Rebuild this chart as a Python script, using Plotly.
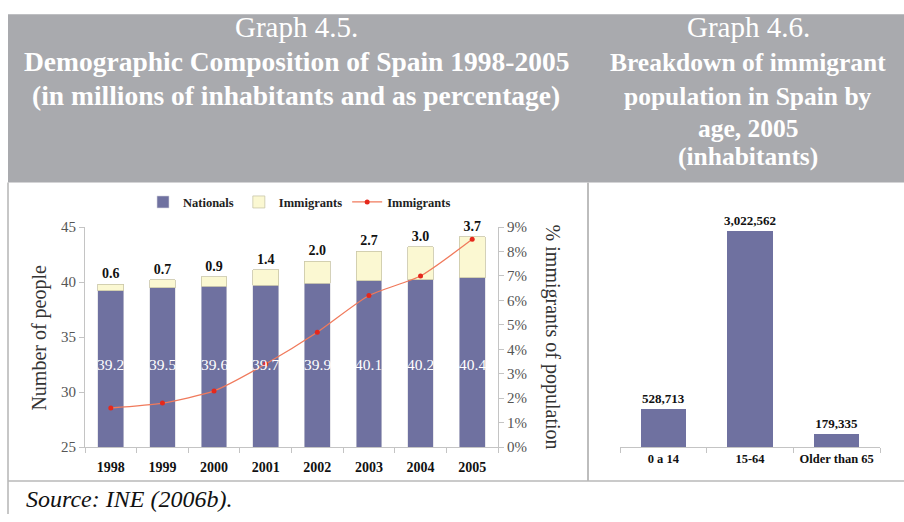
import plotly.graph_objects as go

# Graph 4.5 data (millions of inhabitants, % immigrants)
years = ["1998", "1999", "2000", "2001", "2002", "2003", "2004", "2005"]
nationals = [39.2, 39.5, 39.6, 39.7, 39.9, 40.1, 40.2, 40.4]
immigrants = [0.6, 0.7, 0.9, 1.4, 2.0, 2.7, 3.0, 3.7]
immigrant_pct = [1.6, 1.8, 2.3, 3.4, 4.7, 6.2, 7.0, 8.5]

# Graph 4.6 data (immigrant inhabitants by age group, 2005)
age_groups = ["0 a 14", "15-64", "Older than 65"]
age_counts = [528713, 3022562, 179335]

W, H = 904, 522
SERIF = "Liberation Serif"
NAT_COLOR = "#6f71a0"
IMM_COLOR = "#fbf8d2"
AXIS_GRAY = "#c4c4c4"


def X(px):
    return px / W


def Y(py):
    return 1 - py / H


fig = go.Figure()

fig.add_trace(go.Bar(
    x=years, y=nationals, name="Nationals",
    marker=dict(color=NAT_COLOR, line=dict(color="#d8d8e0", width=0.6)),
    xaxis="x", yaxis="y", width=0.5,
))
fig.add_trace(go.Bar(
    x=years, y=immigrants, name="Immigrants",
    marker=dict(color=IMM_COLOR, line=dict(color="#c9c6a8", width=0.8)),
    xaxis="x", yaxis="y", width=0.5,
    text=[f"{v:.1f}" for v in immigrants], textposition="outside",
    textfont=dict(family=SERIF, size=14, color="#111", weight="bold"),
    cliponaxis=False, constraintext="none",
))
fig.add_trace(go.Scatter(
    x=years, y=immigrant_pct, name="Immigrants", mode="lines+markers",
    line=dict(color="#f07a5c", width=1.3, shape="spline", smoothing=0.6),
    marker=dict(color="#e5281c", size=5),
    xaxis="x", yaxis="y2",
))
fig.add_trace(go.Bar(
    x=age_groups, y=age_counts, showlegend=False,
    marker=dict(color=NAT_COLOR, line=dict(width=0)),
    xaxis="x3", yaxis="y3", width=0.52,
    texttemplate="%{y:,}", textposition="outside",
    textfont=dict(family=SERIF, size=13, color="#111", weight="bold"),
    cliponaxis=False, constraintext="none",
))

tick_font = dict(family=SERIF, size=15, color="#555")

fig.update_layout(
    width=W, height=H, autosize=False,
    margin=dict(l=0, r=0, t=0, b=0),
    paper_bgcolor="white", plot_bgcolor="white",
    barmode="stack", bargap=0.5,
    showlegend=True,
    legend=dict(
        orientation="h", x=X(143), y=Y(185), xanchor="left", yanchor="top",
        font=dict(family=SERIF, size=12.5, color="#222", weight="bold"),
        traceorder="normal", itemwidth=30, tracegroupgap=0,
        bgcolor="rgba(0,0,0,0)",
    ),
    xaxis=dict(
        type="category", domain=[X(85), X(498)], anchor="y",
        range=[-0.5, len(years) - 0.5],
        showline=True, linecolor=AXIS_GRAY, linewidth=1,
        ticks="outside", tickson="boundaries", ticklen=5, tickcolor=AXIS_GRAY,
        ticklabelstandoff=7,
        tickfont=dict(family=SERIF, size=14, color="#111", weight="bold"),
        showgrid=False, fixedrange=True,
    ),
    yaxis=dict(
        domain=[Y(453), Y(226)], range=[25, 45], dtick=5,
        showline=True, linecolor=AXIS_GRAY, linewidth=1,
        ticks="outside", ticklen=5, tickcolor=AXIS_GRAY,
        tickfont=tick_font, showgrid=False, zeroline=False,
    ),
    yaxis2=dict(
        overlaying="y", side="right", anchor="x", range=[0, 9], dtick=1,
        ticksuffix="%", showline=True, linecolor=AXIS_GRAY, linewidth=1,
        ticks="outside", ticklen=5, tickcolor=AXIS_GRAY,
        tickfont=tick_font, showgrid=False, zeroline=False,
    ),
    xaxis3=dict(
        type="category", domain=[X(620), X(880)], anchor="y3",
        range=[-0.5, len(age_groups) - 0.5],
        showline=True, linecolor=AXIS_GRAY, linewidth=1,
        ticks="outside", tickson="boundaries", ticklen=5, tickcolor=AXIS_GRAY,
        tickfont=dict(family=SERIF, size=12.5, color="#111", weight="bold"),
        showgrid=False,
    ),
    yaxis3=dict(
        domain=[Y(453), Y(202)], range=[0, 3400000],
        visible=False, showgrid=False, zeroline=False,
    ),
)

shapes = [
    # header band
    dict(type="rect", xref="paper", yref="paper",
         x0=X(8), x1=X(904), y0=Y(180), y1=Y(6.5),
         fillcolor="#a9aaae", line=dict(width=0), layer="below"),
    # panel borders
    dict(type="line", xref="paper", yref="paper",
         x0=X(8), x1=X(8), y0=Y(180), y1=Y(522),
         line=dict(color="#b4b4b4", width=1.5)),
    dict(type="line", xref="paper", yref="paper",
         x0=X(588), x1=X(588), y0=Y(180), y1=Y(488),
         line=dict(color="#bdbdbd", width=2)),
    dict(type="line", xref="paper", yref="paper",
         x0=X(8), x1=X(904), y0=Y(488), y1=Y(488),
         line=dict(color="#b8b8b8", width=1.5)),
]
fig.update_layout(shapes=shapes)

annotations = []


def header(text, cx, cy, bold=True, size=26):
    annotations.append(dict(
        xref="paper", yref="paper", x=X(cx), y=Y(cy),
        xanchor="center", yanchor="middle", showarrow=False, text=text,
        font=dict(family=SERIF, size=size, color="white",
                  weight="bold" if bold else "normal"),
    ))


header("Graph 4.5.", 296, 20, bold=False, size=29)
header("Demographic Composition of Spain 1998-2005", 296, 55, size=27.5)
header("(in millions of inhabitants and as percentage)", 296, 90, size=27.5)
header("Graph 4.6.", 748, 20, bold=False, size=29)
header("Breakdown of immigrant", 748, 56, size=25.5)
header("population in Spain by", 748, 91, size=25.5)
header("age, 2005", 748, 124, size=25.5)
header("(inhabitants)", 748, 153, size=25.5)

# labels inside the national bars (x given as category index)
for i, v in enumerate(nationals):
    annotations.append(dict(
        xref="x", yref="y", x=i, y=32.5, text=f"{v:.1f}", showarrow=False,
        font=dict(family=SERIF, size=15.5, color="white"),
    ))

# axis titles
annotations.append(dict(
    xref="paper", yref="paper", x=X(40), y=Y(340), text="Number of people",
    textangle=-90, showarrow=False, xanchor="center", yanchor="middle",
    font=dict(family=SERIF, size=20, color="#333"),
))
annotations.append(dict(
    xref="paper", yref="paper", x=X(552), y=Y(339),
    text="% immigrants of population",
    textangle=90, showarrow=False, xanchor="center", yanchor="middle",
    font=dict(family=SERIF, size=20, color="#333"),
))

# source note
annotations.append(dict(
    xref="paper", yref="paper", x=X(24), y=Y(507), text="<i>Source: INE (2006b).</i>",
    showarrow=False, xanchor="left", yanchor="middle",
    font=dict(family=SERIF, size=24, color="#111"),
))

fig.update_layout(annotations=annotations)

fig.write_html("out.html")
